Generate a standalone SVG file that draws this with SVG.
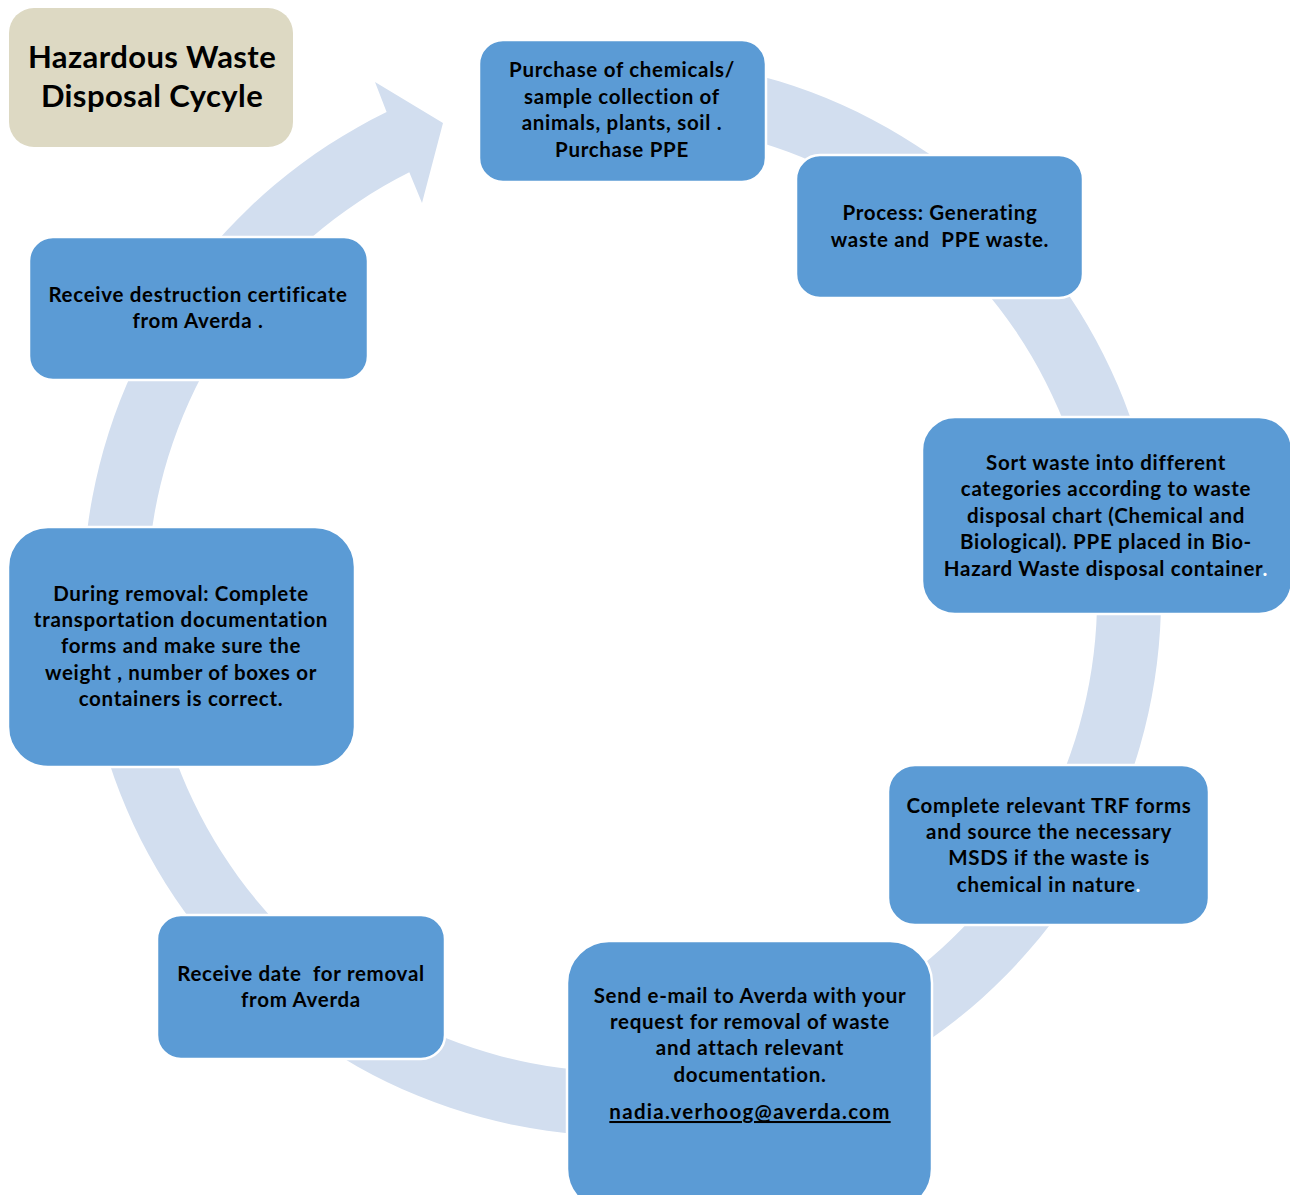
<svg xmlns="http://www.w3.org/2000/svg" width="1290" height="1195" viewBox="0 0 1290 1195">
<style>
  .box { fill: #5B9BD5; stroke: #FFFFFF; stroke-width: 2.5; }
  .title { fill: #DDD9C3; }
  .t { font-family: Lato, "Liberation Sans", sans-serif; font-weight: bold; font-size: 20.5px; letter-spacing: 0.7px; fill: #000000; text-anchor: middle; }
  .tt { font-family: Lato, "Liberation Sans", sans-serif; font-weight: bold; font-size: 31px; letter-spacing: 0.4px; fill: #000000; text-anchor: middle; }
  .w { fill: #FFFFFF; }
  .link { letter-spacing: 1.3px; text-decoration: underline; }
</style>
<rect width="1290" height="1195" fill="#FFFFFF"/>
<g id="connectors">
  <path d="M 547,63.2 A 539 539 0 1 1 386.6,112.1 L 375,82 L 443,123 L 422,203 L 409.3,172.3 A 475 475 0 1 0 555.9,126.6 Z" fill="#D2DEEF"/>
</g>
<g id="title">
  <rect class="title" x="9" y="8" width="284" height="139" rx="25"/>
  <text class="tt" x="152" y="68">Hazardous Waste</text>
  <text class="tt" x="152" y="107">Disposal Cycyle</text>
</g>
<g id="n1">
  <rect class="box" x="479" y="40" width="287" height="142" rx="24"/>
  <text class="t" x="622" y="77">Purchase of chemicals/</text>
  <text class="t" x="622" y="104">sample collection of</text>
  <text class="t" x="622" y="130">animals, plants, soil .</text>
  <text class="t" x="622" y="157">Purchase PPE</text>
</g>
<g id="n2">
  <rect class="box" x="796" y="155" width="287" height="143" rx="24"/>
  <text class="t" x="940" y="220">Process: Generating</text>
  <text class="t" x="940" y="247" xml:space="preserve">waste and  PPE waste.</text>
</g>
<g id="n3">
  <rect class="box" x="922" y="417" width="370" height="197" rx="33"/>
  <text class="t" x="1106" y="470">Sort waste into different</text>
  <text class="t" x="1106" y="496">categories according to waste</text>
  <text class="t" x="1106" y="523">disposal chart (Chemical and</text>
  <text class="t" x="1106" y="549">Biological). PPE placed in Bio-</text>
  <text class="t" x="1106" y="576">Hazard Waste disposal container<tspan class="w">.</tspan></text>
</g>
<g id="n4">
  <rect class="box" x="888" y="765" width="321" height="160" rx="27"/>
  <text class="t" x="1049" y="813">Complete relevant TRF forms</text>
  <text class="t" x="1049" y="839">and source the necessary</text>
  <text class="t" x="1049" y="865">MSDS if the waste is</text>
  <text class="t" x="1049" y="892">chemical in nature<tspan class="w">.</tspan></text>
</g>
<g id="n5">
  <rect class="box" x="567" y="941" width="365" height="270" rx="42"/>
  <text class="t" x="750" y="1003">Send e-mail to Averda with your</text>
  <text class="t" x="750" y="1029">request for removal of waste</text>
  <text class="t" x="750" y="1055">and attach relevant</text>
  <text class="t" x="750" y="1082">documentation.</text>
  <text class="t link" x="750" y="1119">nadia.verhoog@averda.com</text>
</g>
<g id="n6">
  <rect class="box" x="157" y="915" width="288" height="144" rx="24"/>
  <text class="t" x="301" y="981" xml:space="preserve">Receive date  for removal</text>
  <text class="t" x="301" y="1007">from Averda</text>
</g>
<g id="n7">
  <rect class="box" x="8" y="527" width="347" height="240" rx="40"/>
  <text class="t" x="181" y="601">During removal: Complete</text>
  <text class="t" x="181" y="627">transportation documentation</text>
  <text class="t" x="181" y="653">forms and make sure the</text>
  <text class="t" x="181" y="680">weight , number of boxes or</text>
  <text class="t" x="181" y="706">containers is correct.</text>
</g>
<g id="n8">
  <rect class="box" x="29" y="237" width="339" height="143" rx="24"/>
  <text class="t" x="198" y="302">Receive destruction certificate</text>
  <text class="t" x="198" y="328">from Averda .</text>
</g>
</svg>
